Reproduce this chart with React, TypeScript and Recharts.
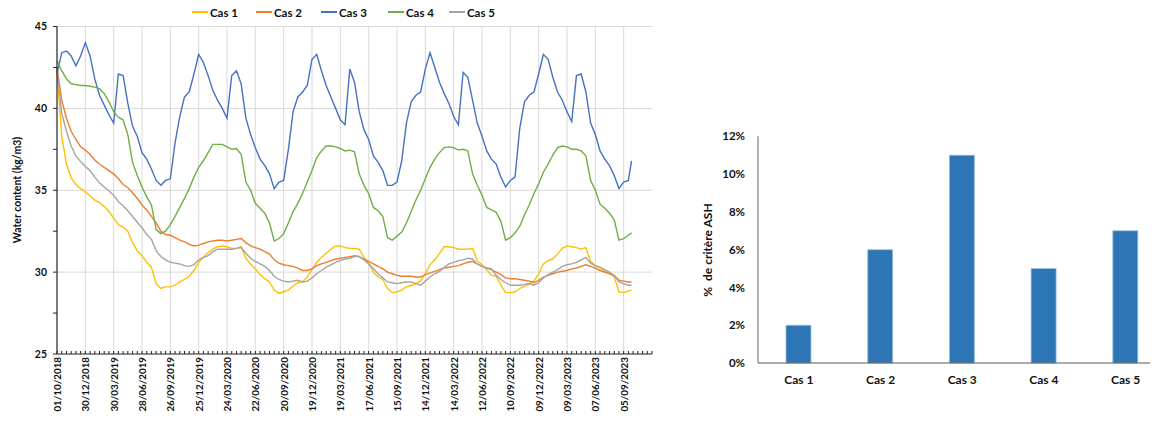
import { Bar, BarChart, CartesianGrid, Line, LineChart, XAxis, YAxis } from "recharts";

const FONT = "Lato, 'DejaVu Sans', sans-serif";
const INK = "#111";

// jours depuis le 01/10/2018, un point tous les 15 jours
const START = Date.UTC(2018, 9, 1);
const sampleDays = [...Array.from({ length: 122 }, (_, i) => i * 15), 1825];

// Water content (kg/m3)
const cas1 = [
  42.3, 38.3, 36.6, 35.75, 35.35, 35.1, 34.9, 34.65, 34.4, 34.25, 34.0, 33.7, 33.3, 32.9, 32.75, 32.5,
  31.8, 31.3, 31.0, 30.6, 30.3, 29.3, 29.0, 29.1, 29.1, 29.2, 29.4, 29.55, 29.75, 30.1, 30.6,
  30.9, 31.2, 31.4, 31.55, 31.6, 31.55, 31.45, 31.45, 31.55, 30.85, 30.5, 30.2, 29.85, 29.6, 29.4, 28.9,
  28.7, 28.8, 28.9, 29.15, 29.35, 29.4, 29.7, 30.15, 30.6, 30.9, 31.15, 31.4, 31.6, 31.6, 31.5,
  31.45, 31.45, 31.4, 30.9, 30.55, 30.0, 29.7, 29.55, 29.0, 28.75, 28.8, 28.9, 29.1, 29.2, 29.3, 29.45,
  29.9, 30.45, 30.75, 31.15, 31.55, 31.55, 31.5, 31.4, 31.4, 31.4, 31.45, 30.7, 30.45, 30.15, 29.8,
  29.75, 29.2, 28.75, 28.75, 28.8, 29.0, 29.15, 29.25, 29.45, 29.9, 30.5, 30.7, 30.8, 31.1, 31.45,
  31.6, 31.55, 31.5, 31.4, 31.5, 30.65, 30.4, 30.25, 30.05, 29.95, 29.7, 28.8, 28.75, 28.85, 28.9,
];
const cas2 = [
  42.5, 40.5, 39.4, 38.6, 38.1, 37.65, 37.45, 37.2, 36.85, 36.6, 36.4, 36.2, 36.0, 35.7, 35.35, 35.15,
  34.85, 34.5, 34.1, 33.8, 33.4, 33.0, 32.5, 32.3, 32.25, 32.1, 31.95, 31.85, 31.7, 31.6, 31.65,
  31.75, 31.85, 31.9, 31.95, 31.95, 31.9, 31.95, 32.0, 32.05, 31.8, 31.6, 31.5, 31.4, 31.25, 31.1, 30.75,
  30.55, 30.45, 30.4, 30.35, 30.25, 30.1, 30.1, 30.2, 30.4, 30.5, 30.6, 30.7, 30.8, 30.85, 30.9,
  30.95, 31.0, 30.95, 30.8, 30.65, 30.5, 30.35, 30.2, 30.0, 29.9, 29.8, 29.75, 29.75, 29.75, 29.7, 29.7,
  29.85, 29.95, 30.05, 30.15, 30.25, 30.3, 30.35, 30.4, 30.5, 30.6, 30.65, 30.5, 30.35, 30.25, 30.15,
  30.0, 29.85, 29.65, 29.6, 29.6, 29.55, 29.5, 29.45, 29.35, 29.5, 29.7, 29.8, 29.9, 30.0, 30.05,
  30.1, 30.2, 30.25, 30.35, 30.45, 30.35, 30.25, 30.1, 30.0, 29.9, 29.8, 29.5, 29.45, 29.4, 29.4,
];
const cas3 = [
  42.1, 43.4, 43.5, 43.2, 42.6, 43.2, 44.0, 43.2, 41.8, 40.8, 40.2, 39.6, 39.1, 42.1, 42.0, 40.3,
  38.9, 38.3, 37.3, 36.9, 36.3, 35.6, 35.3, 35.6, 35.7, 37.9, 39.5, 40.7, 41.0, 42.1, 43.3,
  42.8, 42.0, 41.1, 40.5, 40.0, 39.4, 42.0, 42.3, 41.5, 39.4, 38.4, 37.6, 36.9, 36.5, 36.0, 35.1,
  35.5, 35.6, 37.5, 39.8, 40.7, 41.0, 41.4, 43.0, 43.3, 42.3, 41.4, 40.7, 40.0, 39.3, 39.0,
  42.4, 41.6, 39.8, 38.7, 38.1, 37.1, 36.7, 36.2, 35.3, 35.3, 35.5, 36.8, 39.1, 40.4, 40.8, 41.0,
  42.4, 43.4, 42.5, 41.6, 40.9, 40.3, 39.5, 39.0, 42.2, 41.9, 40.5, 39.1, 38.3, 37.4, 36.9,
  36.6, 35.8, 35.2, 35.6, 35.8, 38.8, 40.4, 40.8, 41.0, 42.1, 43.3, 43.0, 41.9, 41.0, 40.5,
  39.8, 39.2, 42.0, 42.1, 41.0, 39.1, 38.4, 37.4, 36.9, 36.5, 35.9, 35.1, 35.5, 35.6, 36.8,
];
const cas4 = [
  42.9, 42.3, 41.8, 41.5, 41.45, 41.4, 41.4, 41.35, 41.3, 41.2, 40.9, 40.4, 39.8, 39.45, 39.3, 38.4,
  36.7, 35.9, 35.2, 34.6, 34.1, 32.6, 32.35, 32.5, 32.9, 33.4, 33.95, 34.5, 35.1, 35.8, 36.4,
  36.8, 37.3, 37.8, 37.8, 37.8, 37.65, 37.5, 37.55, 37.2, 35.5, 35.0, 34.2, 33.9, 33.6, 33.0, 31.9,
  32.05, 32.35, 33.0, 33.7, 34.2, 34.8, 35.5, 36.2, 37.0, 37.4, 37.7, 37.7, 37.65, 37.55, 37.4,
  37.45, 37.35, 36.0, 35.3, 34.8, 33.95, 33.75, 33.4, 32.1, 31.95, 32.2, 32.45, 33.0, 33.7, 34.4, 35.0,
  35.7, 36.4, 36.9, 37.3, 37.6, 37.65, 37.6, 37.45, 37.5, 37.4, 36.0, 35.3, 34.7, 33.95, 33.8,
  33.65, 33.1, 31.95, 32.1, 32.4, 32.8, 33.5, 34.1, 34.8, 35.4, 36.1, 36.6, 37.15, 37.6, 37.7,
  37.65, 37.5, 37.5, 37.4, 37.1, 35.6, 35.0, 34.15, 33.9, 33.6, 33.2, 31.95, 32.05, 32.25, 32.4,
];
const cas5 = [
  42.4, 39.7, 38.6, 37.7, 37.1, 36.75, 36.45, 36.2, 35.8, 35.45, 35.2, 34.95, 34.7, 34.3, 34.05, 33.75,
  33.4, 33.05, 32.7, 32.3, 32.0, 31.3, 30.95, 30.75, 30.6, 30.55, 30.5, 30.4, 30.35, 30.45, 30.75,
  30.9, 31.0, 31.25, 31.4, 31.4, 31.4, 31.4, 31.45, 31.5, 31.15, 30.85, 30.65, 30.5, 30.35, 30.1, 29.75,
  29.55, 29.45, 29.4, 29.45, 29.5, 29.4, 29.45, 29.65, 29.9, 30.1, 30.3, 30.45, 30.6, 30.7, 30.8,
  30.85, 30.95, 30.95, 30.75, 30.5, 30.2, 29.9, 29.65, 29.4, 29.35, 29.3, 29.35, 29.4, 29.4, 29.3, 29.2,
  29.45, 29.7, 29.9, 30.05, 30.3, 30.5, 30.6, 30.7, 30.75, 30.85, 30.8, 30.5, 30.35, 30.25, 30.2,
  29.8, 29.55, 29.35, 29.2, 29.2, 29.2, 29.25, 29.3, 29.2, 29.35, 29.65, 29.85, 30.0, 30.15, 30.35,
  30.45, 30.5, 30.6, 30.75, 30.9, 30.55, 30.4, 30.3, 30.15, 30.0, 29.8, 29.4, 29.3, 29.2, 29.2,
];

const seriesKeys = ["cas1", "cas2", "cas3", "cas4", "cas5"];
const seriesNames = ["Cas 1", "Cas 2", "Cas 3", "Cas 4", "Cas 5"];
const seriesColors = ["#FFC000", "#ED7D31", "#4472C4", "#70AD47", "#A5A5A5"];
const legendLeft = [192, 256, 321, 388, 449];

// axe des dates : graduations tous les 15 j, étiquettes tous les 90 j
const dateTicks = Array.from({ length: 127 }, (_, i) => i * 15);
const gridDays = Array.from({ length: 20 }, (_, i) => (i + 1) * 90);
const waterTicks = [25, 27.5, 30, 32.5, 35, 37.5, 40, 42.5, 45];

// % de critère ASH
const cases = ["Cas 1", "Cas 2", "Cas 3", "Cas 4", "Cas 5"];
const ashShare = [0.02, 0.06, 0.11, 0.05, 0.07];
const pctTicks = [0, 0.02, 0.04, 0.06, 0.08, 0.1, 0.12];

const waterData = sampleDays.map((day, i) => ({
  day,
  cas1: cas1[i],
  cas2: cas2[i],
  cas3: cas3[i],
  cas4: cas4[i],
  cas5: cas5[i],
}));
const ashData = cases.map((name, i) => ({ name, share: ashShare[i] }));

function fmtDate(d: number) {
  const t = new Date(START + d * 86400000);
  const dd = String(t.getUTCDate()).padStart(2, "0");
  const mm = String(t.getUTCMonth() + 1).padStart(2, "0");
  return `${dd}/${mm}/${t.getUTCFullYear()}`;
}

function DateTick({ x, y, payload }: any) {
  if (payload.value % 90 !== 0 || payload.value > 1800) return <g />;
  return (
    <text
      x={x}
      y={y}
      transform={`rotate(-90 ${x} ${y})`}
      textAnchor="end"
      dominantBaseline="central"
      fontSize={9.8}
      fontWeight={700}
      fontFamily={FONT}
      fill={INK}
    >
      {fmtDate(payload.value)}
    </text>
  );
}

const textStyle = { fontSize: 10.5, fontWeight: 700, fontFamily: FONT, fill: INK };

// titre d'axe vertical, centré sur (cx, cy)
function VLabel({ cx, cy, size, children }: { cx: number; cy: number; size: number; children: string }) {
  return (
    <div
      style={{
        position: "absolute",
        left: cx - 100,
        top: cy - 8,
        width: 200,
        height: 16,
        lineHeight: "16px",
        textAlign: "center",
        transform: "rotate(-90deg)",
        whiteSpace: "pre",
        fontSize: size,
        fontWeight: 700,
        color: INK,
      }}
    >
      {children}
    </div>
  );
}

export default function App() {
  return (
    <div
      style={{
        position: "relative",
        width: 1158,
        height: 423,
        margin: -8,
        overflow: "hidden",
        background: "#fff",
        fontFamily: FONT,
      }}
    >
      {/* légende */}
      {seriesNames.map((n, i) => (
        <div
          key={n}
          style={{ position: "absolute", top: 4, left: legendLeft[i], display: "flex", alignItems: "center", height: 16 }}
        >
          <span style={{ width: 16, height: 2, background: seriesColors[i], marginRight: 2 }} />
          <span style={{ fontSize: 11.5, fontWeight: 700, color: INK }}>{n}</span>
        </div>
      ))}

      <VLabel cx={17} cy={190} size={10.5}>
        Water content (kg/m3)
      </VLabel>

      <div style={{ position: "absolute", left: 0, top: 0 }}>
        <LineChart width={660} height={423} data={waterData} margin={{ top: 26.5, right: 8, bottom: 0, left: 0 }}>
          <CartesianGrid stroke="#D9D9D9" horizontalValues={[30, 35, 40, 45]} verticalValues={gridDays} />
          <XAxis
            dataKey="day"
            type="number"
            domain={[0, 1890]}
            ticks={dateTicks}
            interval={0}
            height={69}
            tickSize={-3}
            tickMargin={6}
            tick={<DateTick />}
            axisLine={{ stroke: "#222", strokeWidth: 1.2 }}
            tickLine={{ stroke: "#222" }}
          />
          <YAxis
            type="number"
            domain={[25, 45]}
            ticks={waterTicks}
            interval={0}
            width={57}
            tickSize={4}
            tickMargin={6}
            tickFormatter={(v: number) => (v % 5 === 0 ? String(v) : "")}
            tick={textStyle}
            axisLine={{ stroke: "#222", strokeWidth: 1.2 }}
            tickLine={{ stroke: "#222" }}
          />
          {seriesKeys.map((k, i) => (
            <Line
              key={k}
              dataKey={k}
              name={seriesNames[i]}
              type="linear"
              stroke={seriesColors[i]}
              strokeWidth={1.4}
              dot={false}
              isAnimationActive={false}
            />
          ))}
        </LineChart>
      </div>

      <VLabel cx={708} cy={250} size={12}>
        {"%  de critère ASH"}
      </VLabel>

      <div style={{ position: "absolute", left: 700, top: 0 }}>
        <BarChart
          width={470}
          height={423}
          data={ashData}
          margin={{ top: 136.3, right: 3.5, bottom: 0, left: 0 }}
          barSize={25}
        >
          <XAxis
            dataKey="name"
            height={60}
            tickLine={false}
            tickSize={0}
            tickMargin={12}
            tick={{ ...textStyle, fontSize: 12 }}
            axisLine={{ stroke: "#595959", strokeWidth: 1.2 }}
          />
          <YAxis
            domain={[0, 0.12]}
            ticks={pctTicks}
            interval={0}
            width={58}
            tickLine={false}
            tickSize={0}
            tickMargin={13}
            tickFormatter={(v: number) => `${Math.round(v * 100)}%`}
            tick={{ ...textStyle, fontSize: 11.5 }}
            axisLine={{ stroke: "#7F7F7F", strokeWidth: 1.2 }}
          />
          <Bar dataKey="share" fill="#2E75B6" stroke="#9DC3E6" strokeWidth={0.8} isAnimationActive={false} />
        </BarChart>
      </div>
    </div>
  );
}
